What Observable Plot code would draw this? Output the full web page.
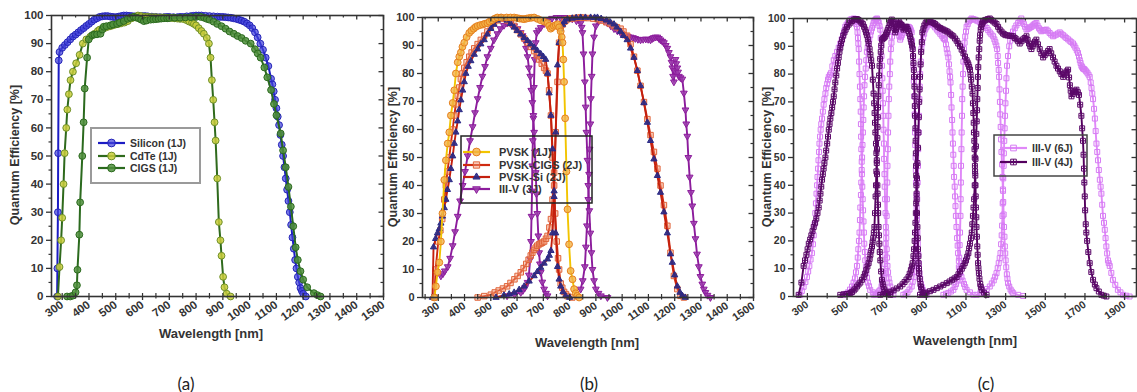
<!DOCTYPE html>
<html>
<head>
<meta charset="utf-8">
<script src="https://cdn.jsdelivr.net/npm/d3@7"></script>
<script src="https://cdn.jsdelivr.net/npm/@observablehq/plot@0.6"></script>
<style>
  html, body { margin: 0; padding: 0; background: #fff; }
  #page { position: relative; width: 1137px; height: 392px; overflow: hidden; font-family: "Liberation Sans", Arial, sans-serif; }
  .panel { position: absolute; top: 0; }
  .ytitle { position: absolute; transform: translate(-50%, -50%) rotate(-90deg); white-space: nowrap; font-weight: bold; font-size: 12.5px; color: #333; }
  .xtitle { position: absolute; transform: translate(-50%, -50%); white-space: nowrap; font-weight: bold; font-size: 13px; color: #333; }
  .plabel { position: absolute; transform: translate(-50%, -50%); font-family: Lato, "Open Sans", sans-serif; font-size: 17px; color: #222; }
  #legend { position: absolute; left: 0; top: 0; pointer-events: none; }
</style>
</head>
<body>
<div id="page"></div>
<script>
// ---------------- DATA (wavelength nm, quantum efficiency %) ----------------
// Panel (a)
const siliconQE = [[281,0],[282,10],[284,30],[285,51],[287,84],[290,87],[300,88.5],[310,89.5],[320,90.5],[330,91.5],[340,92.5],[350,93.2],[360,94],[370,94.8],[380,95.5],[390,96.3],[400,97],[410,97.8],[420,98.5],[430,99],[440,99.5],[450,99.7],[460,99.8],[470,99.8],[480,99.6],[490,99.5],[500,99.4],[510,99.6],[520,99.8],[530,100],[540,100],[550,99.9],[560,99.8],[570,99.7],[580,99.6],[590,99.7],[600,99.8],[610,99.8],[620,99.7],[635,99.6],[650,99.5],[665,99.4],[680,99.4],[690,99.5],[700,99.5],[715,99.4],[730,99.4],[740,99.5],[750,99.5],[765,99.7],[780,99.8],[790,99.9],[800,100],[810,100],[820,100],[835,99.9],[850,99.8],[865,99.7],[880,99.6],[890,99.5],[900,99.5],[910,99.4],[920,99.3],[930,99.2],[940,99],[950,98.8],[960,98.5],[970,98.2],[980,97.8],[990,97.2],[1000,96.5],[1010,95.5],[1020,94],[1030,92.2],[1040,90],[1050,87.8],[1060,85],[1070,82],[1080,77.5],[1085,75.5],[1090,73],[1095,70],[1100,67],[1105,64],[1110,61],[1115,57.5],[1120,54],[1125,50],[1130,46],[1135,42],[1140,38],[1145,34],[1150,30],[1155,25.5],[1160,21],[1165,17],[1170,13],[1175,10],[1180,7],[1185,5],[1190,3],[1195,2],[1200,1],[1210,0]];
const cdteQE = [[284,0],[290,10.5],[296,20],[300,28],[305,40],[309,51],[315,60],[319,66.5],[325,72],[331,77],[340,80],[352,83],[365,86],[377,90],[390,91.5],[405,92.5],[421,93.5],[433,94.5],[440,95],[450,95.3],[460,95.6],[471,96],[480,96.2],[490,96.5],[500,96.8],[510,97],[520,97.2],[533,97.5],[545,98],[560,99],[570,99.5],[583,100],[595,99.8],[610,99.6],[620,99.5],[630,99.4],[640,99.4],[650,99.4],[660,99.3],[670,99.3],[680,99.3],[690,99.2],[700,99.2],[710,99.1],[720,99],[730,98.9],[740,98.8],[754,98.7],[765,98.3],[775,97.8],[785,97.4],[792,97],[800,96.5],[810,95.5],[820,94.5],[829,93.5],[840,92],[848,90],[854,85],[859,77],[864,70],[869,62],[873,55.5],[879,42],[885,26.5],[891,20],[895,14.5],[901,7],[906,3.3],[914,1],[929,0]];
const cigsQE = [[318,0],[330,0],[340,0.3],[350,1.5],[355,4],[357,9.5],[364,22],[367,33.5],[375,50],[380,62],[384,74],[393,85],[399,91.5],[412,93],[420,93.2],[430,93.3],[443,93.5],[450,95],[455,96],[465,96.2],[480,96.5],[490,96.8],[505,97],[515,97.5],[530,98],[545,98.8],[555,99.2],[567,99.5],[575,99.3],[585,99],[595,98.5],[605,98],[615,98.2],[630,98.5],[640,98.6],[650,98.7],[660,98.8],[670,98.9],[680,99],[692,99],[700,99.1],[720,99.2],[740,99.2],[760,99.3],[780,99.4],[800,99.5],[817,99.5],[830,99.2],[840,98.8],[850,98.5],[865,97.8],[879,97],[895,96.2],[910,95.3],[925,94.3],[941,93.5],[955,92.7],[970,92],[985,91],[1004,90],[1020,88],[1030,86.5],[1041,85],[1055,81.5],[1066,78],[1080,73.5],[1091,68.5],[1100,64.5],[1116,58],[1125,52],[1135,46],[1145,39],[1154,32],[1163,25],[1172,17.5],[1180,13],[1190,9],[1200,6],[1215,3.3],[1240,1.2],[1253,0.5],[1265,0]];

// Panel (b)
const pvskQE = [[285,0],[291,4],[297,9],[304,12.5],[310,20],[316,30],[323,42],[329,49],[336,55],[342,59],[348,65],[355,69.5],[361,74],[367,80],[374,84],[380,86],[386,87.5],[392,89.5],[399,91],[408,93],[418,94.5],[426,95.3],[435,96],[442,96.6],[450,97],[460,97.3],[470,97.5],[478,97.8],[487,98],[495,98.5],[505,99],[515,99.6],[525,100],[540,100],[560,100],[575,100],[589,100],[600,99.8],[610,99.6],[620,99.5],[627,99.4],[636,99.6],[645,99.8],[655,99.9],[665,100],[678,99.5],[690,99],[703,98.5],[716,98],[722,97],[728,96],[734,96.5],[740,97],[747,97.3],[754,97.6],[760,96.5],[766,95],[770,93],[773,91],[776,85],[779,77],[783,64],[788,45],[792,31.5],[798,19],[804,9.5],[811,6.5],[817,3],[823,1.5],[829,0.6],[836,0]];
const pvskCigsTopQE = [[285,0],[290,10],[300,20],[308,24],[315,28],[323,35],[329,40],[335,45],[342,50],[348,55],[355,60],[361,65],[367,69],[374,72],[380,75],[386,78],[392,80],[399,82],[408,84],[418,86],[427,87.5],[437,89],[450,90.5],[462,92],[475,93.5],[487,95],[500,96.5],[512,98],[525,99],[537,100],[550,99.6],[562,99],[575,98],[589,97],[600,95.5],[614,94],[627,92.5],[640,91],[652,89.5],[665,88],[675,86.5],[684,85],[694,83.5],[703,82],[710,81],[716,80],[722,74],[729,65],[735,50],[741,40],[745,30],[751,20],[756,14],[760,10],[766,5],[772,3.5],[779,2],[786,1.2],[792,0.5],[810,0]];
const pvskCigsBottomQE = [[450,0],[475,0.5],[500,1],[515,1.8],[530,2.5],[546,3.2],[562,4],[575,5.2],[590,6.5],[602,7.7],[614,9],[625,10.5],[635,12],[644,13.5],[652,15],[658,16],[665,17],[671,17.8],[677,18.5],[684,19],[690,19.3],[696,19.6],[703,20],[710,21],[716,22],[723,25],[729,28],[735,35],[741,44.6],[747,59],[754,77],[760,91],[766,96],[773,97.5],[780,98.5],[786,99],[792,99.4],[800,99.6],[810,99.7],[820,99.8],[830,99.9],[842,100],[855,99.9],[870,99.8],[890,99.6],[906,99.4],[920,98.9],[940,98.3],[955,97.7],[969,97],[980,96.5],[994,96],[1005,95],[1019,93.5],[1032,90.5],[1045,86],[1058,81],[1070,75.6],[1083,69.8],[1096,63.7],[1108,58],[1121,52],[1134,46],[1146,40],[1159,33],[1172,25.6],[1184,16],[1197,7.7],[1210,3],[1222,0.6],[1235,0]];
const pvskSiTopQE = [[278,0],[282,18],[290,21],[297,23],[304,24.5],[310,26.5],[316,29],[323,32],[329,35],[335,38.5],[342,42],[348,46],[355,50.5],[361,55],[367,59],[374,63],[380,67],[386,70.5],[393,74],[399,77],[405,80],[414,82.5],[424,84.5],[437,86.8],[450,88.7],[462,90.5],[475,92],[487,94],[500,96],[512,97.5],[525,99],[537,100],[550,99.6],[562,99],[575,97.8],[589,96.5],[600,95.3],[614,94],[627,92.8],[640,91.7],[652,90.5],[665,89.3],[677,88.2],[690,87],[700,86],[709,85],[716,80],[722,73],[729,65],[735,53],[741,38],[747,23],[754,11],[760,6.5],[766,4],[775,2],[785,0.6],[800,0]];
const pvskSiBottomQE = [[520,0],[550,0.8],[570,1.2],[589,1.8],[608,2.8],[627,4],[646,5.8],[665,7.7],[677,9.2],[690,10.7],[703,12.2],[716,13.7],[723,15],[729,16.7],[735,23],[741,36],[747,59],[754,83],[760,91],[766,96],[773,97.5],[780,98.5],[792,99.4],[810,99.7],[825,99.9],[842,100],[860,100],[880,100],[895,100],[906,100],[920,99.6],[940,99],[955,98.3],[969,97.6],[980,96.5],[994,95],[1005,93.5],[1019,92],[1032,89],[1045,85.7],[1058,81],[1070,75.6],[1083,69.5],[1096,62.5],[1108,56],[1121,49.4],[1134,43.5],[1146,37.5],[1159,30.5],[1172,23],[1184,15.5],[1191,12.5],[1200,8],[1210,4],[1220,1.8],[1229,0.6],[1240,0]];
const iiiv3TopQE = [[310,7.7],[318,8.5],[325,9.5],[336,11],[345,14],[355,18.5],[364,23.5],[374,29],[383,34.5],[393,40],[402,45],[412,50.6],[421,56],[431,61],[440,66],[450,71],[459,75],[468,79],[478,82.5],[487,86],[500,89],[512,92],[525,94.2],[537,96],[550,97.2],[562,98],[575,97.8],[589,97],[602,96],[614,94.6],[621,93.5],[627,92],[634,89],[640,86],[645,82],[650,79],[654,74],[658,69.6],[662,64],[665,59],[668,52],[671,44.6],[674,37],[677,30],[681,22],[684,16],[687,12],[690,9],[696,5.5],[703,3],[710,1.5],[716,0.6]];
const iiiv3MidQE = [[562,0.6],[590,1],[614,1.8],[622,2.5],[630,3.5],[640,5.4],[645,8],[650,13.7],[653,20],[655,29],[657,38],[658,47],[660,56],[662,65],[664,75],[667,85],[671,91],[675,94.6],[682,95.5],[690,96.4],[703,97.8],[716,99],[733,99.7],[750,100],[765,100],[779,100],[795,99.8],[810,99.5],[826,98.8],[842,98],[846,96.5],[849,94.6],[853,87],[858,77],[861,68],[864,59],[868,49],[871,40],[875,31],[879,23],[883,16],[887,10],[893,6],[900,3],[910,1.5],[919,0.6],[944,0]];
const iiiv3BotQE = [[842,3],[850,6],[858,11],[862,18],[866,25.6],[871,35],[874,44],[876,53],[879,62],[881,71],[884,79],[887,87],[893,93],[900,97],[910,98.8],[919,99.4],[932,98.8],[944,98],[957,97],[969,96],[982,95.2],[994,94.6],[1003,94],[1013,93.5],[1022,93.2],[1032,93],[1041,92.8],[1050,92.5],[1060,92.2],[1070,92],[1080,92.2],[1090,92.3],[1099,92.2],[1108,92],[1115,92.5],[1120,92.8],[1127,93],[1134,93],[1140,92.5],[1146,92],[1153,91.5],[1159,91],[1166,90],[1172,89],[1178,87.5],[1184,86],[1188,84],[1191,82],[1194,79],[1197,77],[1200,81],[1203,85],[1206,83.5],[1210,82],[1213,80.5],[1216,79],[1222,78.5],[1229,78],[1235,73],[1241,67],[1244,62],[1248,57.6],[1252,50],[1257,43],[1262,37.5],[1267,32.7],[1273,26.5],[1279,21],[1285,15.5],[1292,11],[1298,7.5],[1305,4.8],[1311,3],[1317,1.8],[1325,0.8],[1336,0]];

// Panel (c)
const iiiv4Sub1QE = [[256,0.6],[270,5],[281,11],[288,13],[295,15],[301,17],[307,19],[314,20.5],[320,22],[326,23.5],[332,25],[339,26.5],[345,28],[351,30],[357,32],[362,34.5],[366,37],[370,39.5],[374,42],[378,44],[382,46],[386,48],[391,50],[395,52.5],[400,55],[404,57.5],[408,60],[412,62],[416,64],[421,66],[425,68],[429,70],[433,72],[437,74.5],[441,77],[446,79.5],[450,82],[454,84],[458,86],[462,88],[466,89.5],[470,91],[475,92.4],[481,93.8],[487,95],[493,96],[500,97],[508,97.8],[517,98.5],[525,99.1],[534,99.6],[542,99.8],[550,99.8],[558,99.5],[567,99],[573,98.5],[580,98],[586,97],[592,96],[596,95],[600,94],[605,92.5],[609,91],[614,89],[618,87],[622,85],[626,83],[630,78],[634,73],[637,69.5],[639,66],[641,62.5],[643,59],[646,55],[648,51.6],[650,48],[651,44],[653,40],[654,37],[656,33],[657,30],[659,25],[661,22],[663,19],[665,16],[668,13],[672,9],[676,6],[680,4.5],[684,3.5],[688,2.5],[693,1.8],[705,1],[718,0.6]];
const iiiv4Sub2QE = [[466,0.6],[483,0.8],[500,0.9],[508,1],[517,1.2],[525,1.6],[534,2.2],[542,2.8],[550,3.6],[558,4.3],[567,5],[575,6],[584,7],[590,8.2],[597,9.5],[603,10.8],[609,12],[614,13.5],[618,15],[622,16.5],[626,18],[629,19.5],[632,21],[635,23],[638,25],[641,30],[644,36],[646,40],[648,45],[650,49],[651,53],[653,57],[654,61],[655,64.5],[656,68],[658,72],[660,76],[662,79.5],[664,83],[667,85.5],[670,88],[673,90.3],[676,92.4],[680,92.7],[685,93],[689,93.3],[693,93.6],[697,94.3],[701,95],[705,95.8],[709,96.6],[714,97.6],[718,98.5],[722,99.1],[726,99.6],[731,98.8],[735,98],[739,96.5],[743,95],[747,96],[751,97],[756,98],[760,99],[764,98.5],[768,98],[772,97.8],[776,97.6],[780,96.8],[785,96],[789,96.5],[793,97],[797,97],[801,97],[806,96.2],[810,95.5],[814,94.6],[818,93.6],[821,92.6],[824,91.5],[828,90.3],[831,89],[833,86.5],[835,84],[837,81.5],[838,79],[840,75.5],[841,72],[842,68.5],[843,65],[845,60.5],[846,56],[847,51.5],[848,47],[849,43.5],[850,40],[851,35],[853,30],[855,25],[857,21],[858,17],[860,14.5],[861,12],[863,10],[864,8.4],[867,6.3],[870,4.5],[873,3.4],[876,2.4],[884,1.3],[893,0.6]];
const iiiv4Sub3QE = [[668,0.6],[684,0.9],[701,1.2],[718,1.7],[735,2.2],[751,2.9],[768,3.6],[780,4.4],[790,5.2],[800,6.1],[810,7],[816,8.2],[822,9.5],[827,10.8],[831,12],[835,14.5],[838,17],[841,20],[843,23],[845,26.5],[847,30],[849,33.5],[851,37],[853,42.5],[855,48],[858,53.5],[860,59],[862,64.5],[864,70],[866,74.5],[868,79],[871,83.5],[874,88],[877,91.5],[880,95],[885,96.3],[890,97.5],[896,98.3],[902,99],[910,98.9],[919,98.8],[927,98.6],[936,98.4],[944,98],[952,97.5],[960,97],[969,96.6],[977,96.3],[986,96],[994,95.7],[1003,95.4],[1011,95],[1020,94.5],[1028,94],[1036,93.6],[1045,92.8],[1053,92],[1061,91],[1070,90],[1078,88.8],[1087,87.5],[1095,86.3],[1103,85],[1108,84.2],[1112,83.5],[1116,82.6],[1120,81.6],[1123,79.8],[1126,78],[1129,75.5],[1133,73],[1135,69.5],[1137,66],[1139,62.5],[1140,59],[1142,56],[1143,53],[1144,50],[1145,47],[1147,43.5],[1148,40],[1149,36],[1150,32],[1152,28.5],[1153,25],[1155,21.5],[1157,18],[1159,15],[1161,12],[1163,10.2],[1165,8.4],[1168,6.4],[1172,4.5],[1175,3.4],[1179,2.4],[1190,1.4],[1204,0.6]];
const iiiv4Sub4QE = [[868,0.6],[884,1],[900,1.4],[918,1.9],[936,2.4],[953,3],[970,3.6],[986,4.2],[1003,4.8],[1017,5.4],[1030,6],[1042,6.5],[1053,7],[1062,8],[1070,9],[1079,10],[1087,11],[1094,12],[1100,13],[1106,14.3],[1112,15.6],[1116,17.3],[1120,19],[1125,21],[1129,23],[1132,26],[1135,29],[1138,32],[1141,35],[1144,40],[1146,45],[1148,49.5],[1150,54],[1152,58.5],[1154,63],[1156,67],[1157,71],[1159,75],[1160,79],[1162,82.5],[1164,86],[1167,89],[1169,92],[1171,94],[1174,96],[1177,97],[1180,98],[1184,98.5],[1187,99],[1194,99.3],[1200,99.5],[1210,99.8],[1220,100],[1228,99.5],[1237,99],[1245,98.5],[1254,98],[1262,97],[1270,96],[1279,95.3],[1287,94.6],[1294,94.3],[1300,94],[1310,93.9],[1320,93.8],[1329,93.7],[1338,93.6],[1346,93],[1355,92.5],[1363,91.8],[1371,91],[1380,91.8],[1388,92.5],[1396,93],[1405,93.6],[1411,92.3],[1418,91],[1424,90],[1430,89],[1436,90],[1442,91],[1448,91.7],[1455,92.4],[1463,90.7],[1472,89],[1480,87.5],[1489,86],[1497,86.8],[1506,87.5],[1514,88.3],[1522,89],[1530,87.5],[1539,86],[1547,84.5],[1556,83],[1564,82],[1573,81],[1581,80],[1590,79],[1596,79.8],[1602,80.5],[1608,81],[1615,81.6],[1620,78.8],[1624,76],[1628,74],[1632,72],[1638,72.8],[1645,73.5],[1651,74],[1657,74.4],[1664,73.5],[1670,72.5],[1676,69],[1682,65],[1686,60.5],[1690,56],[1693,51],[1695,46],[1697,41],[1699,36],[1701,31],[1704,26],[1707,23],[1711,20],[1717,16],[1724,12],[1732,8.8],[1741,6],[1750,4.3],[1758,3],[1770,1.8],[1783,0.6],[1795,0.3],[1808,0]];
const iiiv6Sub1QE = [[264,0.6],[272,2],[281,3.5],[290,5.2],[298,7],[304,9],[310,11],[316,13.3],[323,15.6],[328,18.8],[332,22],[336,26],[340,30],[343,33.5],[346,37],[349,40],[351,43],[354,46],[356,49],[359,52],[361,55],[364,57.5],[367,60],[370,62],[374,64],[378,66.5],[382,69],[386,71],[391,73],[395,75],[400,76.5],[404,78],[408,79],[414,79.8],[420,80.5],[426,82.8],[433,85],[441,86.5],[450,88],[458,89.5],[466,91],[473,92.5],[480,94],[486,95.5],[491,97],[498,97.8],[505,98.5],[511,99.1],[517,99.6],[525,99.8],[534,100],[538,99.5],[542,99],[546,98],[550,97],[553,95],[555,93],[557,91],[559,89],[561,84.5],[563,80],[565,75.5],[567,71],[569,66.5],[570,62],[571,57.5],[572,53],[574,48.5],[575,44],[577,39.5],[579,35],[581,31],[583,27],[585,23],[587,19],[590,16],[592,13],[595,10.7],[597,8.4],[601,6.7],[605,5],[611,3.7],[617,2.4],[630,1.5],[643,0.6]];
const iiiv6Sub2QE = [[483,0.6],[494,1],[505,1.5],[515,2.5],[525,3.6],[533,5],[540,6.5],[545,8.7],[550,11],[554,14],[557,17],[560,20],[563,23],[565,27.5],[567,32],[570,36.5],[572,41],[574,45.5],[576,50],[578,54.5],[580,59],[582,63.5],[584,68],[586,72],[588,76],[591,79],[594,82],[597,85],[600,88],[604,89.5],[608,91],[612,92.5],[617,94],[621,95.3],[626,96.5],[630,97.5],[634,98.4],[638,99],[643,99.5],[647,99.8],[651,100],[656,99.3],[660,98.5],[664,97.3],[668,96],[670,93],[672,90],[674,86.5],[676,83],[678,78.5],[680,74],[681,69.5],[683,65],[684,60],[686,55],[687,49.5],[689,44],[690,39.5],[692,35],[694,30],[696,25],[698,21],[700,17],[702,14],[704,11],[707,8.7],[710,6.5],[714,5],[718,3.6],[726,2],[734,0.6]];
const iiiv6Sub3QE = [[634,0.6],[645,1],[655,1.4],[662,1.9],[668,2.4],[674,3.7],[680,5],[684,6.7],[688,8.4],[690,11.7],[693,15],[695,19],[698,23],[700,29],[701,35],[703,41],[704,47],[706,53],[707,59],[709,65],[711,71],[713,75.5],[716,80],[718,84.5],[721,89],[724,91.3],[727,93.5],[730,95.3],[734,97],[738,97.5],[742,98],[746,98.2],[751,98.4],[755,96.7],[760,95],[764,93.7],[768,92.4],[772,93.2],[776,94],[780,94.7],[784,95.4],[790,96],[797,96.5],[803,96.8],[810,97],[814,96.8],[818,96.5],[822,95.8],[826,95],[828,92],[831,89],[833,86],[835,83],[837,77.5],[839,72],[841,65.5],[843,59],[844,54.5],[846,50],[847,45.5],[848,41],[850,36.5],[851,32],[853,27.5],[855,23],[857,19],[860,15],[862,11.7],[865,8.4],[869,6.4],[873,4.5],[877,3.4],[882,2.4],[892,1.5],[902,0.6]];
const iiiv6Sub4QE = [[784,0.6],[795,1],[805,1.5],[815,2.5],[826,3.6],[831,5.3],[836,7],[840,9],[843,11],[845,14],[847,17],[849,20],[851,23],[853,29],[854,35],[856,41],[858,47],[859,53],[861,59],[863,65],[865,71],[867,75.5],[869,80],[872,84.5],[875,89],[879,91],[884,93],[889,94.5],[894,96],[900,96.8],[906,97.5],[912,98],[919,98.4],[927,98],[936,97.5],[944,96.8],[953,96],[961,95.3],[970,94.5],[978,93.8],[986,93],[990,92.7],[994,92.4],[999,90.7],[1003,89],[1007,87.5],[1011,86],[1014,83.5],[1017,81],[1020,79],[1022,77],[1025,72.5],[1027,68],[1030,63.5],[1032,59],[1034,55],[1036,51],[1038,47],[1040,43],[1043,39.5],[1045,36],[1047,32.5],[1049,29],[1052,25],[1055,21],[1058,18.3],[1060,15.6],[1064,12.8],[1068,10],[1072,8.5],[1077,7],[1083,5.7],[1090,4.5],[1096,3.4],[1103,2.4],[1120,1.5],[1137,0.6]];
const iiiv6Sub5QE = [[986,0.6],[999,1],[1011,1.3],[1024,1.8],[1036,2.4],[1043,3.4],[1050,4.5],[1056,5.7],[1061,7],[1064,10.5],[1066,14],[1068,18.5],[1070,23],[1072,29],[1073,35],[1074,41],[1075,47],[1077,53],[1078,59],[1080,65],[1081,71],[1083,75.5],[1085,80],[1087,84.5],[1090,89],[1093,91.3],[1096,93.5],[1100,95.3],[1103,97],[1109,98],[1115,99],[1122,99.5],[1128,100],[1136,99.8],[1145,99.6],[1153,99.3],[1162,99],[1172,98.5],[1183,98],[1194,97.3],[1204,96.6],[1212,95.8],[1220,95],[1228,94.3],[1237,93.6],[1243,92.5],[1248,91.5],[1253,90.3],[1257,89],[1260,86.5],[1262,84],[1265,81.5],[1267,79],[1269,74.5],[1271,70],[1273,65.5],[1275,61],[1277,56.5],[1279,52],[1282,47.5],[1284,43],[1286,38.5],[1288,34],[1290,29.5],[1292,25],[1294,21.5],[1296,18],[1298,15.5],[1300,13],[1303,10.5],[1306,8],[1309,6.4],[1312,4.8],[1318,3.6],[1325,2.5],[1331,1.8],[1338,1.2],[1363,0.6],[1388,0.2]];
const iiiv6Sub6QE = [[1154,0.6],[1172,1.2],[1190,1.8],[1205,2.7],[1220,3.6],[1230,4.7],[1240,5.8],[1247,7.1],[1254,8.4],[1260,10.2],[1265,12],[1270,13.8],[1274,15.6],[1277,18.8],[1280,22],[1282,25.5],[1284,29],[1285,33.5],[1287,38],[1288,42.5],[1290,47],[1291,51.5],[1293,56],[1295,60.5],[1297,65],[1299,69.5],[1302,74],[1304,78.5],[1307,83],[1312,86.5],[1318,90],[1323,92],[1329,94],[1337,95.3],[1346,96.5],[1354,97.5],[1363,98.4],[1371,99.2],[1379,100],[1385,99],[1392,98],[1398,97],[1405,96],[1411,96.2],[1418,96.5],[1424,96.8],[1430,97],[1436,97.4],[1442,97.8],[1448,98.1],[1455,98.4],[1461,97.4],[1468,96.5],[1474,96],[1480,95.4],[1487,95.6],[1493,95.8],[1500,95.9],[1506,96],[1514,95.4],[1522,94.8],[1530,94.2],[1539,93.6],[1547,93.9],[1556,94.2],[1564,94.6],[1573,95],[1581,94.5],[1590,94],[1598,93.5],[1606,93],[1615,92.5],[1623,92],[1631,91.5],[1640,91],[1646,90.3],[1652,89.5],[1659,88.5],[1665,87.6],[1670,86.3],[1674,85],[1678,84],[1682,83],[1686,82.5],[1690,82],[1695,81.8],[1699,81.6],[1706,81],[1712,80.5],[1718,79.8],[1724,79],[1729,77],[1733,75],[1737,73],[1741,71],[1746,67.5],[1750,64],[1754,59.5],[1758,55],[1762,52],[1766,49],[1770,45.5],[1775,42],[1779,39.5],[1783,37],[1787,33],[1791,29],[1796,26.5],[1800,24],[1804,21],[1808,18],[1812,15.5],[1816,13],[1820,12],[1825,11],[1833,8.5],[1841,6],[1853,4.2],[1866,2.4],[1879,1.5],[1892,0.6],[1908,0.3],[1925,0]];

// Tick labels
const xTicksAB = [300,400,500,600,700,800,900,1000,1100,1200,1300,1400,1500];
const xTicksC = [300,500,700,900,1100,1300,1500,1700,1900];
const yTicks = [0,10,20,30,40,50,60,70,80,90,100];

// Legend labels
const legendA = ["Silicon (1J)", "CdTe (1J)", "CIGS (1J)"];
const legendB = ["PVSK (1J)", "PVSK-CIGS (2J)", "PVSK-Si (2J)", "III-V (3J)"];
const legendC = ["III-V (6J)", "III-V (4J)"];

// ---------------- symbols ----------------
const sqrt3 = Math.sqrt(3);
const triDown = {draw(ctx, size) { const y = -Math.sqrt(size / (sqrt3 * 3)); ctx.moveTo(0, -y * 2); ctx.lineTo(-sqrt3 * y, y); ctx.lineTo(sqrt3 * y, y); ctx.closePath(); }};
const squarePlus = {draw(ctx, size) { const s = Math.sqrt(size) / 2; ctx.moveTo(-s, -s); ctx.lineTo(s, -s); ctx.lineTo(s, s); ctx.lineTo(-s, s); ctx.closePath(); ctx.moveTo(-s, 0); ctx.lineTo(s, 0); ctx.moveTo(0, -s); ctx.lineTo(0, s); }};

// ---------------- series styling ----------------
const seriesA = [
  {name: legendA[0], segs: [siliconQE], line: "#1c1cc4", sym: d3.symbolCircle, r: 3.4, fill: "#4343dc", fo: 0.7, stroke: "#2424b8"},
  {name: legendA[1], segs: [cdteQE], line: "#2f6a1c", sym: d3.symbolCircle, r: 3.4, fill: "#c9cc3a", fo: 0.85, stroke: "#6f9028"},
  {name: legendA[2], segs: [cigsQE], line: "#2b6a1e", sym: d3.symbolCircle, r: 3.4, fill: "#4f8e3c", fo: 0.85, stroke: "#2b6a1e"}
];
const seriesB = [
  {name: legendB[3], segs: [iiiv3TopQE, iiiv3MidQE, iiiv3BotQE], line: "#8c1c9c", sym: triDown, r: 2.5, fill: "#9b3cab", fo: 0.85, stroke: "#8c1c9c"},
  {name: legendB[1], segs: [pvskCigsTopQE, pvskCigsBottomQE], line: "#cf2a10", sym: d3.symbolSquare, r: 3.1, fill: "#f3a07c", fo: 0.45, stroke: "#e0643a"},
  {name: legendB[2], segs: [pvskSiTopQE, pvskSiBottomQE], line: "#c4200e", sym: d3.symbolTriangle, r: 2.3, fill: "#2a2a86", fo: 0.9, stroke: "#2a2a86"},
  {name: legendB[0], segs: [pvskQE], line: "#f2c400", sym: d3.symbolCircle, r: 3.4, fill: "#f2b246", fo: 0.8, stroke: "#e6801e"}
];
const seriesC = [
  {name: legendC[0], segs: [iiiv6Sub1QE, iiiv6Sub2QE, iiiv6Sub3QE, iiiv6Sub4QE, iiiv6Sub5QE, iiiv6Sub6QE], line: "#e088f8", sym: d3.symbolSquare, r: 2.8, fill: "none", fo: 1, stroke: "#d67cf4"},
  {name: legendC[1], segs: [iiiv4Sub1QE, iiiv4Sub2QE, iiiv4Sub3QE, iiiv4Sub4QE], line: "#54005e", sym: squarePlus, r: 2.8, fill: "none", fo: 1, stroke: "#5c0a6a"}
];

const FONT = "'Liberation Sans', Arial, sans-serif";

function makePanel(cfg) {
  const {W, H, ml, mr, mt, mb, xDomain, labelTicks, minorTicks, fs, series, lw} = cfg;
  const pw = W - ml - mr, ph = H - mt - mb;
  const marks = [];
  for (const s of series) {
    const data = s.segs.flatMap((seg, i) => seg.map(([wl, qe]) => ({wl, qe, seg: i})));
    marks.push(Plot.line(data, {x: "wl", y: "qe", z: "seg", stroke: s.line, strokeWidth: lw}));
    marks.push(Plot.dot(data, {x: "wl", y: "qe", symbol: s.sym, r: s.r, fill: s.fill, fillOpacity: s.fo, stroke: s.stroke, strokeWidth: 1}));
  }
  const allX = [...labelTicks, ...minorTicks];
  const yMinor = d3.range(5, 100, 10);
  marks.push(
    Plot.frame({stroke: "#333", strokeWidth: 1.6}),
    Plot.axisX({ticks: labelTicks, tickFormat: "d", tickRotate: -35, tickSize: 4, tickPadding: 3, fontSize: fs, fontWeight: "bold", color: "#333", strokeWidth: 1.3, label: null}),
    Plot.axisX({ticks: minorTicks, tickFormat: () => "", tickSize: 2.5, color: "#333", strokeWidth: 1.2, label: null}),
    Plot.axisY({ticks: yTicks, tickSize: 5, tickPadding: 3, fontSize: fs, fontWeight: "bold", color: "#333", strokeWidth: 1.3, label: null}),
    Plot.axisY({ticks: yMinor, tickFormat: () => "", tickSize: 2.5, color: "#333", strokeWidth: 1.2, label: null}),
    Plot.tickX(labelTicks, {x: d => d, insetBottom: ph - 4.5, stroke: "#333", strokeWidth: 1.3}),
    Plot.tickX(minorTicks, {x: d => d, insetBottom: ph - 2.5, stroke: "#333", strokeWidth: 1.2}),
    Plot.tickX(allX, {x: d => d, insetTop: ph - 3, stroke: "#333", strokeWidth: 1.2}),
    Plot.tickY(yTicks, {y: d => d, insetLeft: pw - 4.5, stroke: "#333", strokeWidth: 1.3}),
    Plot.tickY(yMinor, {y: d => d, insetLeft: pw - 2.5, stroke: "#333", strokeWidth: 1.2})
  );
  return Plot.plot({
    width: W, height: H, marginLeft: ml, marginRight: mr, marginTop: mt, marginBottom: mb,
    x: {domain: xDomain}, y: {domain: [0, 100]},
    style: {background: "transparent", overflow: "visible", fontFamily: FONT},
    marks
  });
}

const page = document.getElementById("page");
function place(node, left) { node.classList.add("panel"); node.style.left = left + "px"; node.style.maxWidth = "none"; page.appendChild(node); }

place(makePanel({W: 390, H: 345, ml: 51, mr: 7, mt: 15, mb: 49, xDomain: [260, 1500], labelTicks: xTicksAB, minorTicks: d3.range(350, 1500, 100), fs: 11.5, series: seriesA, lw: 2}), 0);
place(makePanel({W: 380, H: 345, ml: 42, mr: 7, mt: 17, mb: 48, xDomain: [240, 1500], labelTicks: xTicksAB, minorTicks: d3.range(250, 1500, 100), fs: 11, series: seriesB, lw: 1.9}), 380);
place(makePanel({W: 377, H: 345, ml: 33, mr: 1, mt: 18, mb: 49, xDomain: [230, 1960], labelTicks: xTicksC, minorTicks: d3.range(400, 1960, 200), fs: 10.5, series: seriesC, lw: 1.9}), 760);

function addDiv(cls, text, x, y) { const d = document.createElement("div"); d.className = cls; d.textContent = text; d.style.left = x + "px"; d.style.top = y + "px"; page.appendChild(d); }
addDiv("ytitle", "Quantum Efficiency [%]", 15, 155);
addDiv("ytitle", "Quantum Efficiency [%]", 393, 157);
addDiv("ytitle", "Quantum Efficiency [%]", 767, 157);
addDiv("xtitle", "Wavelength [nm]", 211, 333);
addDiv("xtitle", "Wavelength [nm]", 587, 342);
addDiv("xtitle", "Wavelength [nm]", 965, 340);
addDiv("plabel", "(a)", 186, 383);
addDiv("plabel", "(b)", 589, 383);
addDiv("plabel", "(c)", 986, 383);

// ---------------- legends ----------------
const svg = d3.select(page).append("svg").attr("id", "legend").attr("width", 1137).attr("height", 392);
function legend(box, rows, series, lx1, lx2, tx, fs, boxStroke, boxW) {
  svg.append("rect").attr("x", box[0]).attr("y", box[1]).attr("width", box[2]).attr("height", box[3])
    .attr("fill", "none").attr("stroke", boxStroke).attr("stroke-width", boxW);
  series.forEach((s, i) => {
    const y = rows[i];
    svg.append("line").attr("x1", lx1).attr("x2", lx2).attr("y1", y).attr("y2", y).attr("stroke", s.line).attr("stroke-width", 2.2);
    svg.append("path").attr("transform", `translate(${(lx1 + lx2) / 2},${y})`)
      .attr("d", d3.symbol().type(s.sym).size(Math.PI * s.r * s.r * 1.3)())
      .attr("fill", s.fill).attr("fill-opacity", s.fo).attr("stroke", s.stroke).attr("stroke-width", 1);
    svg.append("text").attr("x", tx).attr("y", y).attr("dy", "0.35em").attr("font-family", FONT)
      .attr("font-weight", "bold").attr("font-size", fs).attr("fill", "#333").text(s.name);
  });
}
legend([91, 128, 109, 55], [143, 156, 168], seriesA, 98, 125, 130, 10.5, "#9a9a9a", 2);
const bOrder = [seriesB[3], seriesB[1], seriesB[2], seriesB[0]];
legend([461, 136, 131, 67], [152, 165, 177, 189], bOrder, 463, 490, 499, 11, "#222", 1.5);
legend([994, 135, 93, 41], [148, 162], seriesC, 1000, 1027, 1032, 10.5, "#444", 1.5);
</script>
</body>
</html>
